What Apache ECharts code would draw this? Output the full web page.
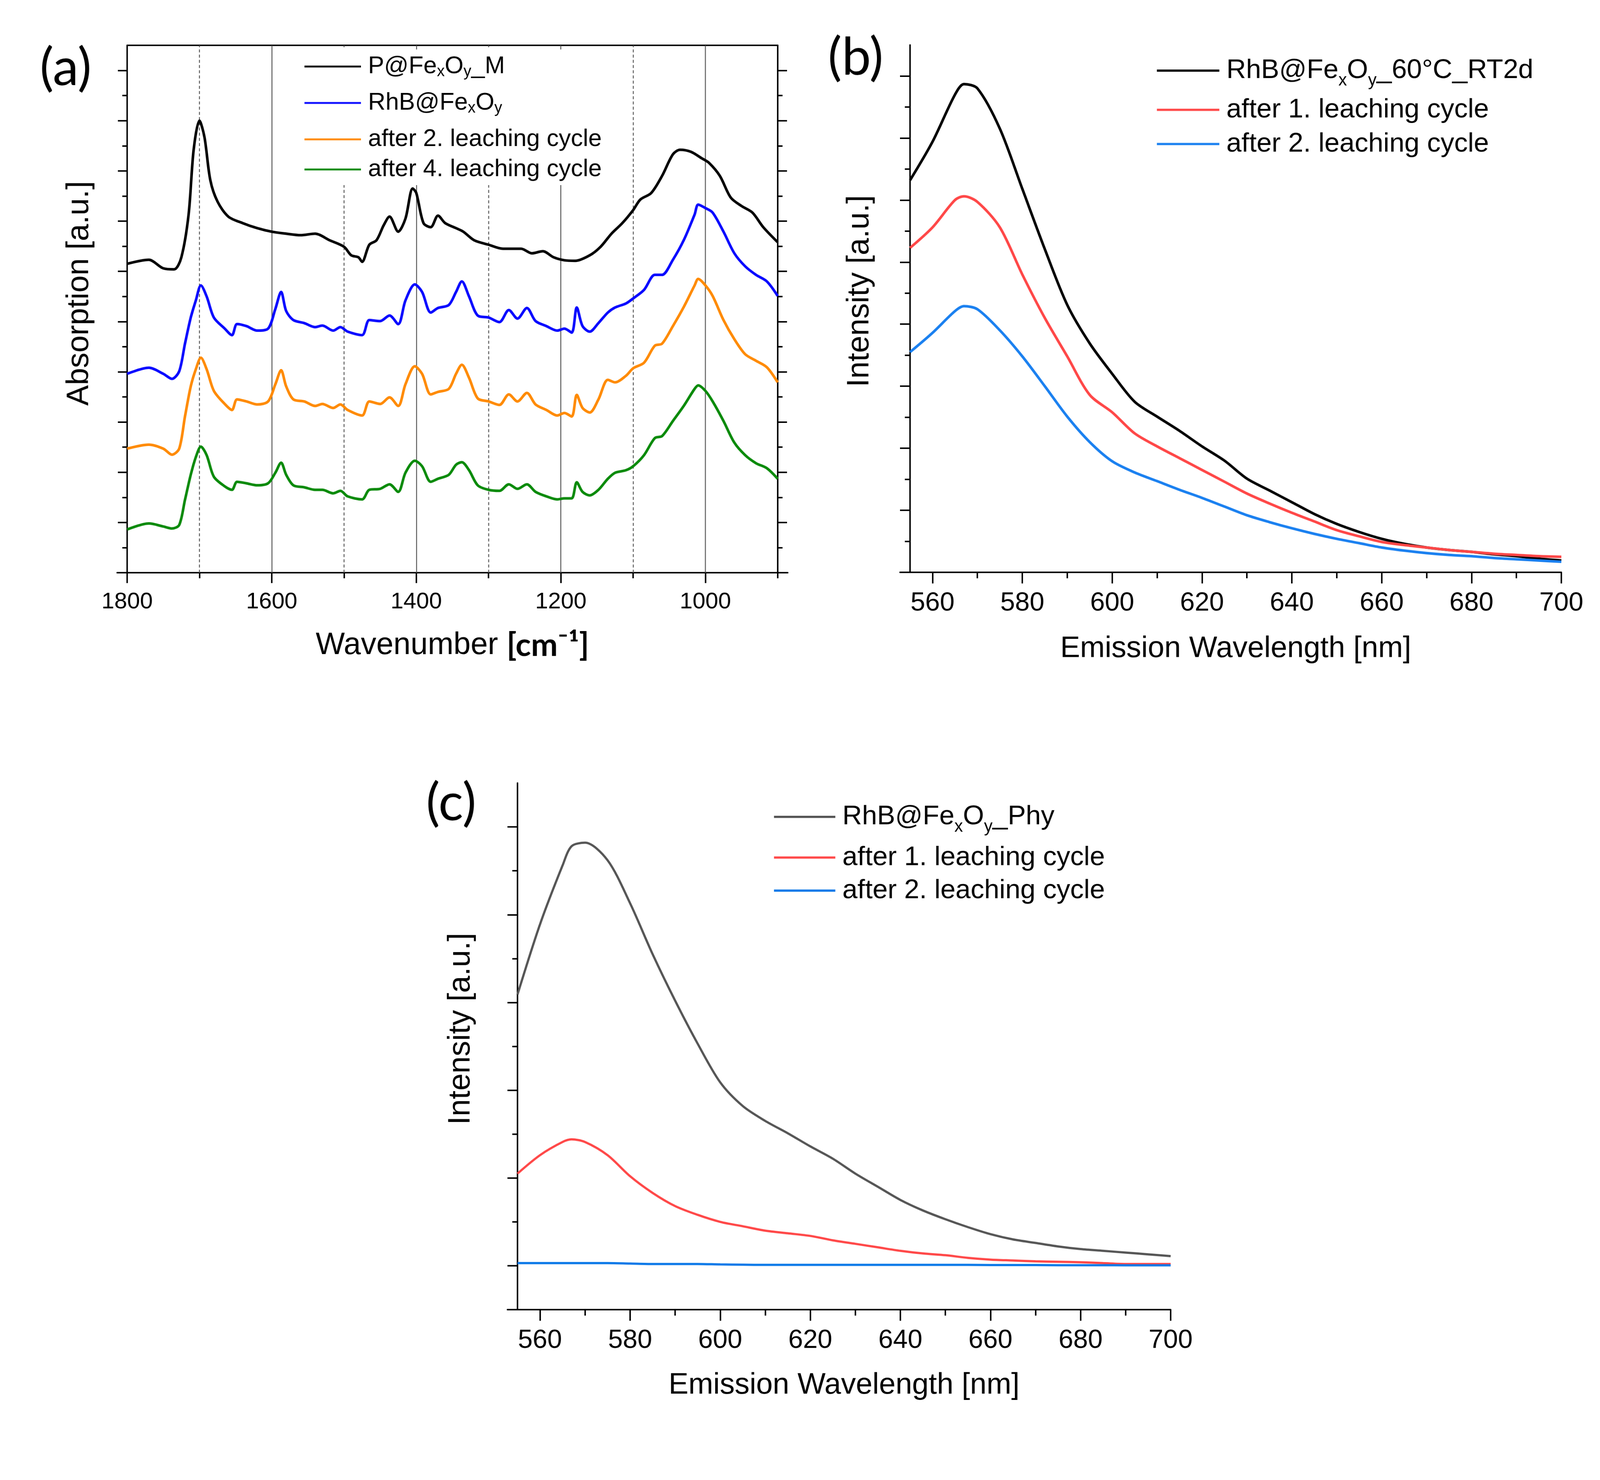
<!DOCTYPE html>
<html>
<head>
<meta charset="utf-8">
<script src="https://cdn.jsdelivr.net/npm/echarts@6/dist/echarts.min.js"></script>
<style>
html, body { margin: 0; padding: 0; background: #fff; overflow: hidden; }
#main { width: 4304px; height: 3790px; transform-origin: 0 0; }
</style>
</head>
<body>
<div id="main"></div>
<script>
// ---- panel (a): IR spectra ----
var irWnBlack = [1800,1770,1750,1735,1725,1715,1708,1700,1693,1685,1675,1660,1640,1620,1600,1580,1560,1540,1520,1500,1490,1480,1475,1465,1455,1445,1437,1425,1415,1405,1400,1390,1380,1370,1360,1345,1335,1320,1300,1280,1255,1240,1225,1210,1195,1180,1160,1145,1130,1115,1100,1090,1075,1060,1045,1035,1020,1005,995,980,965,950,935,920,900];
var irBlack = [6.15,6.23,6.06,6.04,6.28,7.13,8.42,9.00,8.67,7.82,7.39,7.09,6.96,6.86,6.79,6.75,6.72,6.75,6.62,6.49,6.32,6.28,6.19,6.53,6.62,6.92,7.09,6.79,7.05,7.65,7.56,6.96,6.88,7.11,6.96,6.86,6.79,6.62,6.53,6.45,6.45,6.36,6.40,6.28,6.22,6.21,6.32,6.49,6.75,6.96,7.22,7.43,7.56,7.90,8.33,8.42,8.38,8.25,8.16,7.90,7.47,7.30,7.17,6.88,6.58];

var irWn = [1800,1770,1750,1738,1728,1720,1712,1705,1698,1690,1680,1665,1655,1648,1635,1620,1605,1595,1587,1580,1570,1555,1540,1530,1515,1505,1495,1475,1465,1450,1437,1425,1415,1402,1392,1380,1370,1355,1345,1337,1327,1315,1300,1285,1272,1260,1247,1235,1220,1205,1195,1185,1178,1170,1160,1148,1135,1125,1110,1100,1085,1070,1060,1045,1030,1015,1010,1000,990,975,960,945,930,915,900];
var irBlue = [3.96,4.08,3.96,3.86,4.01,4.56,5.08,5.42,5.72,5.50,5.08,4.86,4.73,4.95,4.91,4.82,4.86,5.25,5.59,5.21,5.03,4.97,4.89,4.92,4.82,4.89,4.80,4.73,5.03,5.01,5.12,4.95,5.42,5.74,5.59,5.18,5.27,5.33,5.59,5.80,5.50,5.12,5.08,4.99,5.23,5.06,5.27,5.01,4.91,4.82,4.86,4.78,5.28,4.91,4.80,4.97,5.18,5.28,5.36,5.46,5.63,5.93,5.93,6.23,6.62,7.13,7.33,7.26,7.17,6.79,6.36,6.10,5.93,5.80,5.51];
var irOrange = [2.47,2.55,2.47,2.35,2.47,3.11,3.71,4.05,4.28,4.05,3.62,3.36,3.24,3.45,3.41,3.35,3.41,3.75,4.03,3.71,3.45,3.41,3.32,3.36,3.28,3.35,3.24,3.13,3.41,3.36,3.49,3.32,3.75,4.11,3.96,3.55,3.60,3.66,3.96,4.14,3.88,3.47,3.41,3.34,3.55,3.41,3.58,3.35,3.24,3.13,3.18,3.11,3.54,3.28,3.19,3.45,3.84,3.79,3.92,4.07,4.18,4.52,4.56,4.91,5.29,5.72,5.85,5.72,5.51,5.03,4.65,4.35,4.22,4.09,3.79];
var irGreen = [0.86,0.98,0.92,0.88,0.95,1.45,1.95,2.30,2.51,2.34,1.91,1.72,1.65,1.81,1.78,1.74,1.78,1.99,2.19,1.95,1.74,1.70,1.65,1.65,1.58,1.63,1.52,1.46,1.65,1.67,1.76,1.61,1.99,2.23,2.12,1.81,1.87,1.95,2.15,2.20,2.04,1.74,1.65,1.63,1.76,1.67,1.76,1.61,1.52,1.46,1.48,1.48,1.80,1.61,1.54,1.65,1.87,1.99,2.04,2.12,2.34,2.68,2.72,3.02,3.32,3.66,3.73,3.62,3.41,3.02,2.59,2.34,2.18,2.08,1.87];

// ---- panels (b) and (c): emission spectra ----
var emWl = [555,560,565,567,570,575,580,585,590,595,600,605,610,615,620,625,630,635,640,645,650,655,660,665,670,675,680,685,690,695,700];
var emBlackB = [6.32,6.94,7.70,7.87,7.80,7.15,6.18,5.21,4.31,3.69,3.20,2.75,2.51,2.28,2.03,1.80,1.51,1.32,1.13,0.94,0.78,0.65,0.54,0.46,0.40,0.36,0.33,0.29,0.26,0.22,0.19];
var emRedB = [5.23,5.56,6.00,6.06,5.97,5.56,4.80,4.10,3.48,2.86,2.58,2.24,2.03,1.84,1.65,1.46,1.27,1.11,0.96,0.82,0.68,0.58,0.49,0.44,0.40,0.36,0.33,0.30,0.28,0.26,0.25];
var emBlueB = [3.55,3.86,4.21,4.29,4.24,3.90,3.48,3.00,2.51,2.10,1.79,1.61,1.47,1.33,1.20,1.06,0.92,0.81,0.71,0.62,0.54,0.47,0.40,0.35,0.31,0.28,0.26,0.23,0.21,0.19,0.17];
var emGrayC = [3.09,3.89,4.56,4.78,4.82,4.62,4.13,3.55,3.02,2.53,2.09,1.82,1.65,1.51,1.36,1.22,1.05,0.90,0.75,0.63,0.53,0.44,0.36,0.30,0.26,0.22,0.19,0.17,0.15,0.13,0.11];
var emRedC = [1.05,1.26,1.41,1.44,1.41,1.26,1.02,0.83,0.68,0.58,0.50,0.45,0.40,0.37,0.34,0.29,0.25,0.21,0.17,0.14,0.12,0.09,0.07,0.06,0.05,0.045,0.04,0.03,0.02,0.02,0.02];
var emBlueC = [0.03,0.03,0.03,0.03,0.03,0.03,0.025,0.02,0.02,0.02,0.015,0.012,0.01,0.01,0.01,0.01,0.01,0.01,0.01,0.01,0.01,0.01,0.008,0.008,0.008,0.006,0.006,0.006,0.005,0.005,0.005];

// ---- ticks ----
var irMajor = [1000,1200,1400,1600,1800];
var irMinor = [900,1100,1300,1500,1700];
var irRefSolid = [1600,1400,1200,1000];
var irRefDashed = [1700,1500,1300,1100];
var emMajor = [560,580,600,620,640,660,680,700];
var emMinor = [570,590,610,630,650,670,690];
var absMajor = [1,2,3,4,5,6,7,8,9,10];
var absMinor = [0.5,1.5,2.5,3.5,4.5,5.5,6.5,7.5,8.5,9.5];
var intBMajor = [1,2,3,4,5,6,7,8];
var intBMinor = [0.5,1.5,2.5,3.5,4.5,5.5,6.5,7.5];
var intCMajor = [0,1,2,3,4,5];
var intCMinor = [0.5,1.5,2.5,3.5,4.5];

var legendText = {
    a0: 'P@Fe{s|x}O{s|y}_M',
    a1: 'RhB@Fe{s|x}O{s|y}',
    a2: 'after 2. leaching cycle',
    a3: 'after 4. leaching cycle',
    b0: 'RhB@Fe{d|x}O{d|y}_60°C_RT2d',
    b1: 'after 1. leaching cycle',
    b2: 'after 2. leaching cycle',
    c0: 'RhB@Fe{d|x}O{d|y}_Phy',
    c1: 'after 1. leaching cycle',
    c2: 'after 2. leaching cycle'
};

var FONT = 'Liberation Sans';

// the layout below is in 4304x3790 units; fit it into the real viewport
var box = document.getElementById('main');
var K = Math.min(window.innerWidth / 4304, window.innerHeight / 3790);
box.style.transform = 'scale(' + K + ')';
var chart = echarts.init(box, null, { width: 4304, height: 3790 });

var xAxes = [], yAxes = [];

function axis(list, grid, position, min, max, inverse, ticks, tickLen, labelSize, line) {
    list.push({
        type: 'value', gridIndex: grid, position: position, min: min, max: max, inverse: !!inverse,
        splitLine: { show: false },
        axisLine: { show: !!line, onZero: false, lineStyle: { color: '#000', width: 4 } },
        axisTick: { show: ticks.length > 0, customValues: ticks, length: tickLen, lineStyle: { color: '#000', width: 4 } },
        axisLabel: labelSize ? {
            show: true, customValues: ticks, fontSize: labelSize, fontFamily: FONT, color: '#000', margin: 48,
            formatter: function (v) { return String(v); }
        } : { show: false }
    });
    return list.length - 1;
}

function named(ax, name, gap, size, shift) {
    ax.name = name;
    ax.nameLocation = 'middle';
    ax.nameGap = gap;
    ax.nameTextStyle = {
        fontFamily: FONT, fontSize: size, color: '#000',
        padding: shift ? [0, 0, 0, shift] : 0,
        rich: { u: { fontFamily: 'Lato', fontWeight: 'bold', fontSize: 86, color: '#000' } }
    };
}

function line(id, xs, ys, color, width, xi, yi) {
    return {
        name: id, type: 'line', xAxisIndex: xi, yAxisIndex: yi,
        data: xs.map(function (x, i) { return [x, ys[i]]; }),
        symbol: 'none', showSymbol: false, smooth: 0.3, silent: true, animation: false,
        lineStyle: { color: color, width: width }, itemStyle: { color: color }
    };
}

function legendItem(id, left, top, size, len, thick) {
    return {
        data: [id], left: left, top: top, orient: 'vertical', padding: 0, z: 8,
        icon: 'rect', itemWidth: len, itemHeight: thick, selectedMode: false,
        formatter: function (n) { return legendText[n]; },
        textStyle: {
            fontFamily: FONT, fontSize: size, color: '#000', lineHeight: 70, padding: [0, 0, 0, 14],
            rich: {
                s: { fontFamily: FONT, fontSize: 42, color: '#000', verticalAlign: 'bottom', lineHeight: 70 },
                d: { fontFamily: FONT, fontSize: 46, color: '#000', verticalAlign: 'bottom', lineHeight: 100 }
            }
        }
    };
}

var grids = [
    { left: 342, top: 122, width: 1750, height: 1419 },   // a
    { left: 2448, top: 121, width: 1752, height: 1419 },  // b
    { left: 1392, top: 2107, width: 1757, height: 1417 }, // c
    { left: 315, top: 122, width: 1804, height: 1419 },   // a bottom line extension
    { left: 2421, top: 121, width: 1779, height: 1419 },  // b bottom line extension
    { left: 1365, top: 2107, width: 1784, height: 1417 }  // c bottom line extension
];

// panel a axes
var axA = axis(xAxes, 0, 'bottom', 900, 1800, true, irMajor, 28, 62, false);
axis(xAxes, 0, 'bottom', 900, 1800, true, irMinor, 15, 0, false);
axis(xAxes, 0, 'top', 900, 1800, true, [], 0, 0, true);
named(xAxes[axA], 'Wavenumber {u|[cm⁻¹]}', 153, 83, 0);
var ayA = axis(yAxes, 0, 'left', 0, 10.5, false, absMajor, 25, 0, true);
axis(yAxes, 0, 'left', 0, 10.5, false, absMinor, 13, 0, false);
axis(yAxes, 0, 'right', 0, 10.5, false, absMajor, 25, 0, true);
axis(yAxes, 0, 'right', 0, 10.5, false, absMinor, 13, 0, false);
named(yAxes[ayA], 'Absorption [a.u.]', 86, 83, 84);

// panel b axes
var axB = axis(xAxes, 1, 'bottom', 555, 700, false, emMajor, 30, 71, false);
axis(xAxes, 1, 'bottom', 555, 700, false, emMinor, 16, 0, false);
named(xAxes[axB], 'Emission Wavelength [nm]', 166, 80, 0);
var ayB = axis(yAxes, 1, 'left', 0, 8.5, false, intBMajor, 27, 0, true);
axis(yAxes, 1, 'left', 0, 8.5, false, intBMinor, 14, 0, false);
named(yAxes[ayB], 'Intensity [a.u.]', 93, 83, 94);

// panel c axes
var axC = axis(xAxes, 2, 'bottom', 555, 700, false, emMajor, 30, 71, false);
axis(xAxes, 2, 'bottom', 555, 700, false, emMinor, 16, 0, false);
named(xAxes[axC], 'Emission Wavelength [nm]', 164, 80, 0);
var ayC = axis(yAxes, 2, 'left', -0.5, 5.5, false, intCMajor, 27, 0, true);
axis(yAxes, 2, 'left', -0.5, 5.5, false, intCMinor, 14, 0, false);
named(yAxes[ayC], 'Intensity [a.u.]', 110, 83, 94);

// bottom axis lines that run a bit past the plot edge
[3, 4, 5].forEach(function (g) {
    axis(xAxes, g, 'bottom', 0, 1, false, [], 0, 0, true);
    yAxes.push({ type: 'value', gridIndex: g, show: false, min: 0, max: 1 });
});

var refLines = irRefSolid.map(function (v) { return { xAxis: v }; })
    .concat(irRefDashed.map(function (v) { return { xAxis: v, lineStyle: { type: [8, 6] } }; }));

var seriesA0 = line('a0', irWnBlack, irBlack, '#000000', 7, axA, ayA);
seriesA0.markLine = {
    silent: true, z: 1, symbol: ['none', 'none'], label: { show: false }, animation: false,
    lineStyle: { color: '#555', width: 2.5, type: 'solid' }, data: refLines
};

var option = {
    backgroundColor: '#fff',
    animation: false,
    title: [
        { text: '(a)', left: 102, top: 104, textStyle: { fontFamily: 'Lato', fontSize: 140, fontWeight: 'normal', color: '#000', lineHeight: 150 } },
        { text: '(b)', left: 2222, top: 76, textStyle: { fontFamily: 'Lato', fontSize: 140, fontWeight: 'normal', color: '#000', lineHeight: 150 } },
        { text: '(c)', left: 1141, top: 2082, textStyle: { fontFamily: 'Lato', fontSize: 140, fontWeight: 'normal', color: '#000', lineHeight: 150 } }
    ],
    grid: grids,
    xAxis: xAxes,
    yAxis: yAxes,
    graphic: {
        elements: [
            { type: 'rect', left: 790, top: 133, z: 6, shape: { width: 900, height: 365 }, style: { fill: '#fff' }, silent: true }
        ]
    },
    legend: [
        legendItem('a0', 819, 144, 65, 152, 5),
        legendItem('a1', 819, 242, 65, 152, 5),
        legendItem('a2', 819, 340, 65, 152, 5),
        legendItem('a3', 819, 421, 65, 152, 5),
        legendItem('b0', 3112, 140, 73, 168, 6),
        legendItem('b1', 3112, 259, 73, 168, 6),
        legendItem('b2', 3112, 351, 73, 168, 6),
        legendItem('c0', 2082, 2148, 73, 165, 6),
        legendItem('c1', 2082, 2271, 73, 165, 6),
        legendItem('c2', 2082, 2360, 73, 165, 6)
    ],
    series: [
        seriesA0,
        line('a1', irWn, irBlue, '#0808ff', 7, axA, ayA),
        line('a2', irWn, irOrange, '#ff8a00', 7, axA, ayA),
        line('a3', irWn, irGreen, '#0a8a0a', 7, axA, ayA),
        line('b0', emWl, emBlackB, '#000000', 7, axB, ayB),
        line('b1', emWl, emRedB, '#ff4747', 7, axB, ayB),
        line('b2', emWl, emBlueB, '#1a80f0', 7, axB, ayB),
        line('c0', emWl, emGrayC, '#555555', 6, axC, ayC),
        line('c1', emWl, emRedC, '#ff4747', 6, axC, ayC),
        line('c2', emWl, emBlueC, '#0a78e8', 6, axC, ayC)
    ]
};

chart.setOption(option);
</script>
</body>
</html>
